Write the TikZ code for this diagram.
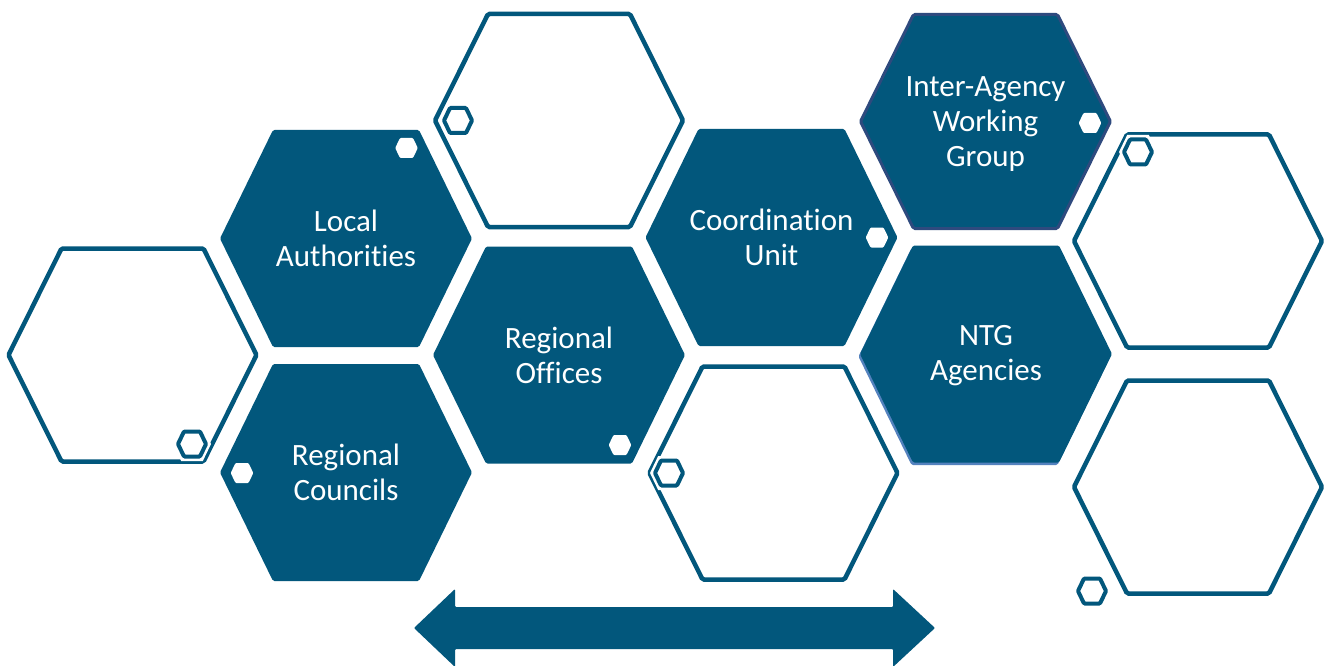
\documentclass[tikz,border=0pt]{standalone}
\usepackage{fontspec}
\setmainfont{Carlito}[RawFeature={-liga;-clig;-calt;-dlig}]
\definecolor{hexblue}{RGB}{2,87,124}
\definecolor{hexnavy}{RGB}{46,74,126}
\definecolor{hexshadow}{RGB}{84,130,190}
% #1 cx, #2 cy, #3 half width, #4 half height, #5 half top edge, #6 style
\newcommand\hexdraw[6]{\path[#6] ({#1-#3},{#2}) -- ({#1-#5},{#2-#4}) -- ({#1+#5},{#2-#4}) -- ({#1+#3},{#2}) -- ({#1+#5},{#2+#4}) -- ({#1-#5},{#2+#4}) -- cycle;}
\newcommand\bigfilled[3][]{\hexdraw{#2}{#3}{126}{108.5}{73}{fill=hexblue,rounded corners=1.5pt,#1}}
\newcommand\bigoutline[2]{\hexdraw{#1}{#2}{124}{106.5}{71}{draw=hexblue,line width=4.5pt,fill=white,rounded corners=1.5pt}}
\newcommand\smallwhite[2]{\hexdraw{#1}{#2}{11.3}{10}{6.5}{fill=white,rounded corners=1pt}}
\newcommand\smalloutline[2]{%
  \hexdraw{#1}{#2}{14}{12.5}{8}{draw=white,line width=9pt,fill=white}%
  \hexdraw{#1}{#2}{14}{12.5}{8}{draw=hexblue,line width=4pt,fill=white,rounded corners=1pt}}
\tikzset{
  lbl/.style={text=white,align=center,inner sep=0pt,font=\fontsize{31}{35}\selectfont},
  bigarrow/.style={fill=hexblue,rounded corners=1pt}
}
\begin{document}
\begin{tikzpicture}[x=1pt,y=-1pt]
\useasboundingbox[fill=white] (0,0) rectangle (1328,666);
% outline hexagons
\bigoutline{132.5}{355}
\bigoutline{559}{120.5}
\bigoutline{773.5}{473}
\bigoutline{1198}{241}
\bigoutline{1198}{487}
% filled hexagons
\bigfilled{346}{238.5}
\bigfilled{346}{472.5}
\bigfilled{559}{355}
\bigfilled{771.5}{237.5}
\hexdraw{985.5}{121.5}{125}{107}{72}{fill=hexblue,draw=hexnavy,line width=3pt,rounded corners=1.5pt}
\hexdraw{984.5}{356.5}{126}{108.5}{73}{fill=hexshadow,rounded corners=1.5pt}
\bigfilled{986}{354}
% small white hexagons
\smallwhite{406.5}{148}
\smallwhite{242}{473}
\smallwhite{620}{445}
\smallwhite{877}{237.5}
\smallwhite{1090}{123}
% small outline hexagons
\smalloutline{458}{120.5}
\smalloutline{192}{444}
\smalloutline{669}{473}
\smalloutline{1138}{152}
\smalloutline{1092}{591}
% labels
\node[lbl] (la) at (346,238.5) {Local\\Authorities};
\node[lbl] (rc) at (346,472.5) {Regional\\Councils};
\node[lbl] (ro) at (559,355) {Regional\\Offices};
\node[lbl] (cu) at (771.5,237.5) {Coordination\\Unit};
\node[lbl] (ia) at (985.5,124) {Inter-Agency\\Working\\Group};
\node[lbl] (ntg) at (986,356) {NTG\\Agencies};
% double arrow
\path[bigarrow] (414,628) -- (455,589) -- (455,607) -- (893,607) -- (893,589) -- (935,628) -- (893,667) -- (893,649) -- (455,649) -- (455,667) -- cycle;
\end{tikzpicture}
\end{document}
